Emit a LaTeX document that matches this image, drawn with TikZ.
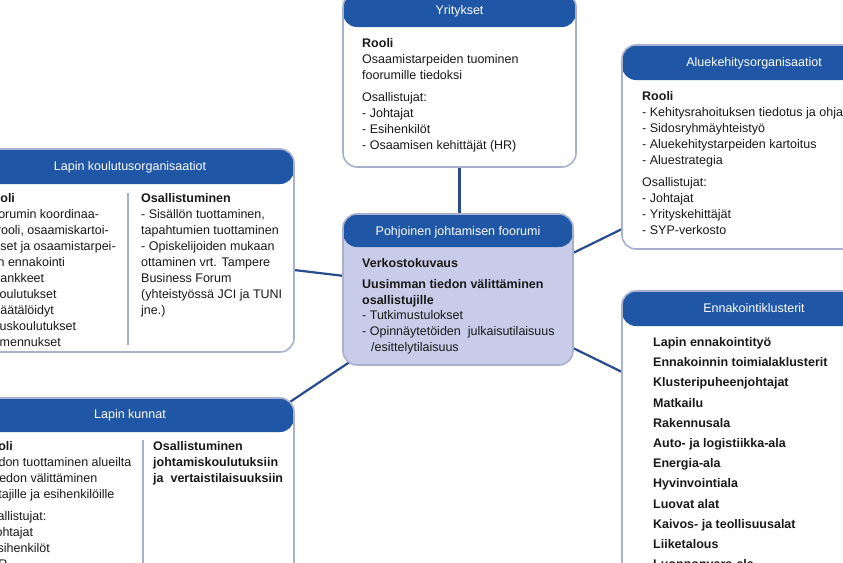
\documentclass[tikz,border=0pt]{standalone}
\usepackage{fontspec}
\setmainfont{Liberation Sans}
\usetikzlibrary{backgrounds}
\definecolor{hdr}{RGB}{31,86,166}
\definecolor{bord}{RGB}{168,176,206}
\definecolor{lav}{RGB}{200,204,232}
\definecolor{conn}{RGB}{40,75,140}
\definecolor{txt}{RGB}{25,25,25}
\begin{document}
\begin{tikzpicture}[x=1pt,y=-1pt,
  card/.style={draw=bord, line width=1.6pt, fill=white, rounded corners=14pt,
    anchor=north west, inner sep=0pt, outer sep=0pt,
    path picture={\fill[hdr] ([yshift=2pt]path picture bounding box.north west)
      rectangle ([yshift=-#1]path picture bounding box.north east);}},
  ttl/.style={text=white, font=\fontsize{12.5}{15}\selectfont, anchor=base, inner sep=0pt},
  body/.style={text=txt, anchor=north west, inner sep=0pt, align=left,
    font=\fontsize{12.5}{16}\selectfont},
  link/.style={draw=conn, line width=2.2pt},
  divider/.style={draw=bord, line width=1.6pt}
]
\useasboundingbox (0,0) rectangle (843,562);
\clip (0,0) rectangle (843,562);

% boxes
\node[card=34pt, minimum width=233pt, minimum height=174pt] (yrit) at (343,-7) {};
\node[card=35pt, minimum width=264pt, minimum height=204pt] (alue) at (622,45) {};
\node[card=35pt, minimum width=328pt, minimum height=203pt] (koul) at (-34,149) {};
\node[card=33pt, fill=lav, minimum width=230pt, minimum height=151pt] (pohj) at (343,214) {};
\node[card=35pt, minimum width=264pt, minimum height=300pt] (enna) at (622,291) {};
\node[card=34pt, minimum width=328pt, minimum height=222pt] (kunn) at (-34,398) {};

% connectors
\begin{pgfonlayer}{background}
\draw[link] (yrit.south) -- (yrit.south |- pohj.north);
\draw[link] ([yshift=36.5pt]pohj.east) -- ([yshift=-82pt]alue.west);
\draw[link] ([yshift=-58.5pt]pohj.east) -- ([yshift=69pt]enna.west);
\draw[link] (koul.center) -- (pohj.center);
\draw[link] (kunn.center) -- (pohj.center);
\end{pgfonlayer}

% titles
\node[ttl] (tyrit) at (459.5,14.3) {Yritykset};
\node[ttl] (talue) at (754,66.3) {Aluekehitysorganisaatiot};
\node[ttl] (tkoul) at (130,170.3) {Lapin koulutusorganisaatiot};
\node[ttl] (tpohj) at (458,235.3) {Pohjoinen johtamisen foorumi};
\node[ttl] (tenna) at (754,312.3) {Ennakointiklusterit};
\node[ttl] (tkunn) at (130,418.3) {Lapin kunnat};

% dividers
\draw[divider] (128,193) -- (128,345);
\draw[divider] (143,440) -- (143,570);

% bodies
\node[body] (byrit) at (362,38.3) {\textbf{Rooli}\\
Osaamistarpeiden tuominen\\
foorumille tiedoksi\\[6pt]
Osallistujat:\\
- Johtajat\\
- Esihenkilöt\\
- Osaamisen kehittäjät (HR)};

\node[body] (balue) at (642,91.3) {\textbf{Rooli}\\
- Kehitysrahoituksen tiedotus ja ohjaus\\
- Sidosryhmäyhteistyö\\
- Aluekehitystarpeiden kartoitus\\
- Aluestrategia\\[6pt]
Osallistujat:\\
- Johtajat\\
- Yrityskehittäjät\\
- SYP-verkosto};

\node[body] (bkoulL) at (-16.5,193.3) {\textbf{Rooli}\\
Foorumin koordinaa-\\
tiorooli, osaamiskartoi-\\
tukset ja osaamistarpei-\\
den ennakointi\\
- Hankkeet\\
- Koulutukset\\
- Räätälöidyt\\
tilauskoulutukset\\
valmennukset};

\node[body] (bkoulR) at (141,193.3) {\textbf{Osallistuminen}\\
- Sisällön tuottaminen,\\
tapahtumien tuottaminen\\
- Opiskelijoiden mukaan\\
ottaminen vrt. Tampere\\
Business Forum\\
(yhteistyössä JCI ja TUNI\\
jne.)};

\node[body, font=\fontsize{12.5}{15.6}\selectfont] (bpohj) at (362,258.3) {\textbf{Verkostokuvaus}\\[5.5pt]
\textbf{Uusimman tiedon välittäminen}\\
\textbf{osallistujille}\\
- Tutkimustulokset\\
- Opinnäytetöiden\ \ julkaisutilaisuus\\
\hspace*{9pt}/esittelytilaisuus};

\node[body, font=\fontsize{12.5}{20.2}\selectfont\bfseries] (benna) at (653,337.3) {Lapin ennakointityö\\
Ennakoinnin toimialaklusterit\\
Klusteripuheenjohtajat\\
Matkailu\\
Rakennusala\\
Auto- ja logistiikka-ala\\
Energia-ala\\
Hyvinvointiala\\
Luovat alat\\
Kaivos- ja teollisuusalat\\
Liiketalous\\
Luonnonvara-ala};

\node[body] (bkunnL) at (-18.5,441.3) {\textbf{Rooli}\\
Tiedon tuottaminen alueilta\\
- Tiedon välittäminen\\
johtajille ja esihenkilöille\\[6pt]
Osallistujat:\\
- Johtajat\\
- Esihenkilöt\\
- HR};

\node[body] (bkunnR) at (153,441.3) {\textbf{Osallistuminen}\\
\textbf{johtamiskoulutuksiin}\\
\textbf{ja\ \ vertaistilaisuuksiin}};
\end{tikzpicture}
\end{document}
